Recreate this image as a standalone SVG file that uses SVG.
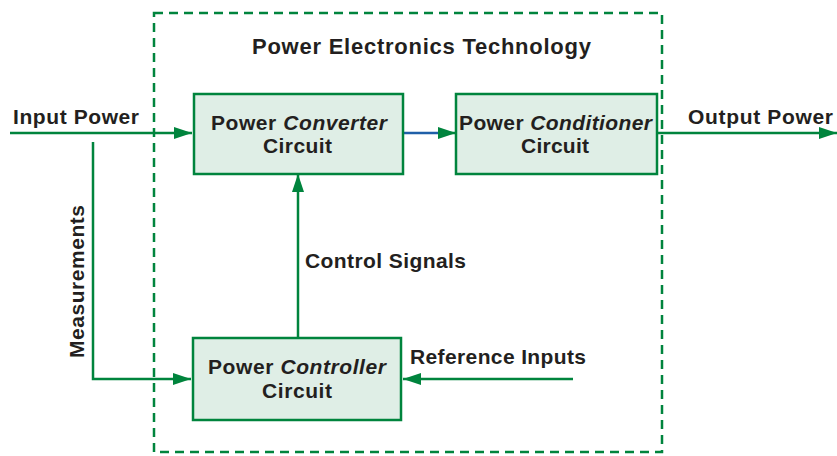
<svg xmlns="http://www.w3.org/2000/svg" width="837" height="456" viewBox="0 0 837 456">
<style>
text{font-family:"Liberation Sans",Arial,sans-serif;font-weight:bold;font-size:21px;fill:#231f20}
.i{font-style:italic}
.box{fill:#dfeee6;stroke:#00843d;stroke-width:2.5}
.ln{fill:none;stroke:#00843d;stroke-width:2.5}
</style>
<defs>
<marker id="ah" viewBox="0 0 18 12" refX="18" refY="6" markerWidth="18" markerHeight="12" markerUnits="userSpaceOnUse" orient="auto">
<path d="M0,0 L18,6 L0,12 Z" fill="#00843d"/>
</marker>
</defs>
<rect x="154" y="13" width="508" height="439" fill="none" stroke="#00843d" stroke-width="2.5" stroke-dasharray="9,6"/>
<text x="252" y="54" style="font-size:22px" textLength="339" lengthAdjust="spacing">Power Electronics Technology</text>
<g id="connectors">
<line class="ln" x1="10" y1="133" x2="192" y2="133" marker-end="url(#ah)"/>
<line x1="403" y1="133" x2="440" y2="133" stroke="#1f5fa8" stroke-width="2.5"/>
<line class="ln" x1="438" y1="133" x2="456" y2="133" marker-end="url(#ah)" stroke="none"/>
<line class="ln" x1="657" y1="133" x2="837" y2="133" marker-end="url(#ah)"/>
<polyline class="ln" points="93,142 93,379 191,379" marker-end="url(#ah)"/>
<line class="ln" x1="298" y1="338" x2="298" y2="174" marker-end="url(#ah)"/>
<line class="ln" x1="573" y1="379" x2="403" y2="379" marker-end="url(#ah)"/>
</g>
<g id="converter">
<rect class="box" x="194" y="94" width="209" height="80"/>
<text x="211" y="130" textLength="176" lengthAdjust="spacing">Power <tspan class="i">Converter</tspan></text>
<text x="263" y="153" textLength="69" lengthAdjust="spacing">Circuit</text>
</g>
<g id="conditioner">
<rect class="box" x="456" y="94" width="201" height="80"/>
<text x="459" y="130" textLength="193" lengthAdjust="spacing">Power <tspan class="i">Conditioner</tspan></text>
<text x="521" y="153" textLength="68" lengthAdjust="spacing">Circuit</text>
</g>
<g id="controller">
<rect class="box" x="193" y="338" width="208" height="82"/>
<text x="208" y="374" textLength="178" lengthAdjust="spacing">Power <tspan class="i">Controller</tspan></text>
<text x="262" y="398" textLength="70" lengthAdjust="spacing">Circuit</text>
</g>
<g id="labels">
<text x="13" y="124" textLength="126" lengthAdjust="spacing">Input Power</text>
<text x="688" y="124" textLength="145" lengthAdjust="spacing">Output Power</text>
<text x="305" y="268" textLength="161" lengthAdjust="spacing">Control Signals</text>
<text x="410" y="364" textLength="176" lengthAdjust="spacing">Reference Inputs</text>
<text transform="translate(84,358) rotate(-90)" textLength="153" lengthAdjust="spacing">Measurements</text>
</g>
</svg>
